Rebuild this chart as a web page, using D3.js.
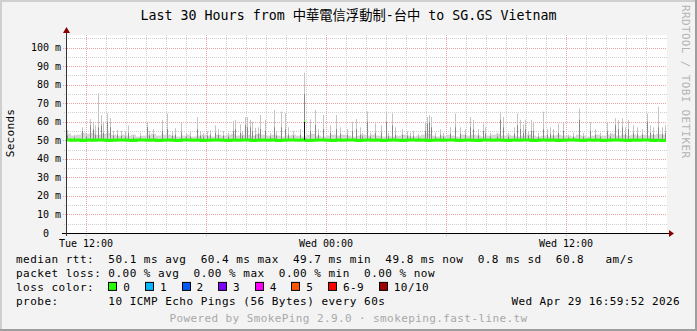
<!DOCTYPE html>
<html>
<head>
<meta charset="utf-8">
<script src="https://cdn.jsdelivr.net/npm/d3@7"></script>
<style>
body { margin: 0; background: #f3f3f3; }
text { font-family: "DejaVu Sans Mono", "Noto Sans CJK TC", monospace; white-space: pre; }
</style>
</head>
<body>
<svg id="chart" width="697" height="331"></svg>
<script>
// ---- data (ms) ----
var endTime = new Date(2026, 3, 29, 16, 59, 52);
var spanHours = 30;
var binMinutes = 15;

var yTickValues = [0, 10, 20, 30, 40, 50, 60, 70, 80, 90, 100];
var xLabelTimes = [new Date(2026, 3, 28, 12, 0), new Date(2026, 3, 29, 0, 0), new Date(2026, 3, 29, 12, 0)];

// median rtt, one value per 15 minutes
var medianMs = [
  50.1, 50.0, 50.2, 49.9, 50.1, 50.0, 50.2, 50.1, 49.9, 50.0, 50.2, 50.1, 50.0, 49.9, 50.1, 50.2, 50.0, 50.1, 49.9, 50.0,
  50.1, 50.0, 49.9, 50.1, 50.2, 50.0, 50.1, 49.9, 50.0, 50.1, 50.2, 50.0, 49.9, 50.1, 50.0, 50.2, 50.1, 49.9, 50.0, 50.1,
  50.0, 50.1, 49.9, 50.0, 50.2, 50.1, 50.0, 50.1, 49.9, 50.0, 50.1, 50.2, 50.0, 49.9, 50.1, 50.0, 50.1, 50.2, 49.9, 50.0,
  50.1, 50.0, 50.2, 49.9, 50.0, 50.1, 50.0, 49.9, 50.1, 50.2, 50.0, 50.1, 49.9, 50.0, 50.1, 50.0, 50.2, 50.1, 49.9, 50.0,
  50.1, 50.0, 49.9, 50.1, 50.2, 50.0, 50.1, 50.0, 49.9, 50.1, 50.0, 50.2, 50.1, 49.9, 50.0, 50.1, 50.0, 50.1, 49.9, 50.0,
  50.1, 50.2, 50.0, 49.9, 50.1, 50.0, 50.1, 49.9, 50.0, 50.2, 50.1, 50.0, 49.9, 50.1, 50.0, 50.1, 50.2, 49.9, 50.0, 49.8
];

// top of the low smoke band, one value per 15 minutes
var floorTopMs = [
  53.5, 52.5, 53, 54, 53.5, 54, 53, 53.5, 54, 53, 52.5, 53, 52.5, 53, 52, 52.5, 53, 53.5, 52.5, 53,
  53, 52.5, 52, 52.5, 53, 52, 52.5, 53, 52.5, 52, 53, 52.5, 53, 53.5, 52.5, 53, 53, 52.5, 53.5, 53,
  52.5, 53, 52.5, 52, 52.5, 53, 52.5, 52, 53, 53.5, 52.5, 52, 52.5, 53, 52.5, 53, 52.5, 52, 52.5, 53,
  52.5, 53, 52.5, 52, 52.5, 52, 52.5, 53, 52.5, 52, 52.5, 53, 53.5, 52.5, 52, 52.5, 53, 52.5, 52, 53,
  52.5, 53, 52.5, 52, 52.5, 53, 53.5, 52.5, 53, 52.5, 52, 52.5, 53, 52.5, 52, 52.5, 52, 52.5, 53, 52.5,
  52.5, 52, 53, 52.5, 52, 52.5, 53, 52.5, 53, 53.5, 52.5, 53, 52.5, 53, 52.5, 53, 52.5, 53, 53.5, 53
];

// smoke spikes: minutes after start, max ping, inner band top
var spikeAt = [3, 24, 48, 60, 72, 81, 87, 96, 105, 111, 123, 132, 141, 153, 165, 177, 186, 201, 222, 243, 249, 261, 288, 303, 318, 327, 345, 360, 372, 393,
  402, 411, 423, 432, 447, 456, 471, 486, 501, 507, 522, 528, 537, 543, 552, 558, 567, 576, 582, 597, 612, 624, 630, 645, 657, 666, 681, 702, 714, 732,
  747, 756, 771, 792, 810, 822, 843, 858, 870, 882, 888, 903, 912, 927, 945, 960, 966, 978, 987, 1008, 1023, 1032, 1041, 1056, 1077, 1083, 1089, 1095, 1107, 1122,
  1131, 1152, 1167, 1182, 1197, 1212, 1221, 1236, 1251, 1257, 1272, 1293, 1302, 1311, 1326, 1344, 1353, 1362, 1371, 1377, 1386, 1395, 1401, 1416, 1431, 1443, 1452, 1461, 1476, 1491,
  1506, 1521, 1539, 1551, 1572, 1587, 1602, 1623, 1632, 1647, 1656, 1668, 1677, 1686, 1701, 1713, 1728, 1743, 1752, 1761, 1776, 1788, 1797];
var spikeMax = [55.5, 53, 57, 54, 61.4, 60, 58, 75.3, 63.6, 60, 64.5, 62, 55, 55.5, 55, 55, 58, 53, 54, 60, 55, 56, 61, 64.5, 55, 56.5, 59.7, 54, 54.5, 62.5,
  55, 54, 55, 55.5, 58, 56, 55, 54, 60.5, 61, 58.5, 55, 62.5, 62.5, 61, 60, 56.7, 57, 63.6, 61, 54, 66.3, 55, 65.5, 64.6, 57, 55, 56, 86.4, 61.3,
  66.3, 56, 63.6, 58, 63.6, 57, 56, 60, 61.5, 57, 54, 65.5, 54, 59, 58, 65.4, 54, 64.5, 57, 56, 55, 54, 55, 53.5, 59.8, 62.5, 63.6, 62.5, 54, 56,
  54, 57, 64.5, 57, 56, 62.5, 61, 56, 59, 57, 54, 54, 65.4, 62.5, 54, 57, 64.5, 61, 58.5, 61, 55, 61, 60, 54, 65.4, 56, 57, 56, 59, 59.7,
  53, 54, 67.2, 54, 59.7, 56, 54, 59.7, 54, 61.9, 61, 61.9, 57, 61, 58, 57, 56, 64.5, 58, 57, 68, 57, 58];
var spikeMid = [52.5, 51.5, 55, 52, 58, 56, 53, 57, 58, 54, 60, 57, 52.5, 53, 52.5, 52, 54, 51.5, 52, 57, 52.5, 53, 55, 56, 52.5, 53, 54, 52, 52, 56,
  52.5, 52, 52.5, 53, 54, 53, 52.5, 52, 55, 56, 54, 52.5, 58, 57, 57, 55, 53, 53.5, 56, 55, 52, 57, 52.5, 57, 56, 53, 52.5, 53, 75, 55,
  58, 53, 56, 54, 56, 53.5, 53, 55, 56, 53, 52, 60, 52, 54, 54, 60, 52, 58, 53, 53, 52.5, 52, 52.5, 51.5, 55, 59, 60, 57, 52, 53,
  52, 53.5, 57, 53.5, 53, 57, 56, 53, 55, 53.5, 52, 52, 61, 57, 52, 53.5, 58, 56, 54, 56, 52.5, 55, 55, 52, 56, 53, 53.5, 53, 54, 55,
  51.5, 52, 61, 52, 55, 53, 52, 55, 52, 58, 56, 57, 53.5, 56, 54, 53.5, 53, 60, 54, 53.5, 57, 53.5, 54];

// single sample where the median itself jumped
var medPeakAt = [714];
var medPeakMs = [60.4];

var lossLabels = ["0", "1", "2", "3", "4", "5", "6-9", "10/10"];
var lossColors = ["#26ff00", "#00b8ff", "#0059ff", "#7e00ff", "#ff00ff", "#ff5500", "#ff0000", "#a10000"];

var legendLines = [
  "median rtt:  50.1 ms avg  60.4 ms max  49.7 ms min  49.8 ms now  0.8 ms sd  60.8   am/s",
  "packet loss: 0.00 % avg  0.00 % max  0.00 % min  0.00 % now",
  "loss color:",
  "probe:       10 ICMP Echo Pings (56 Bytes) every 60s"
];

// ---- layout ----
var W = 697, H = 331;
var plot = { left: 66, right: 666, top: 35, bottom: 233 };
var svg = d3.select("#chart");

var startTime = d3.timeHour.offset(endTime, -spanHours);
function atMinute(m) { return new Date(startTime.getTime() + m * 60000); }
function medianAt(m) { return medianMs[Math.min(medianMs.length - 1, Math.floor(m / binMinutes))]; }

var x = d3.scaleTime().domain([startTime, endTime]).range([plot.left, plot.right]);
var y = d3.scaleLinear().domain([0, 100]).range([plot.bottom, 47.5]);

// background + 3d frame
svg.append("rect").attr("width", W).attr("height", H).attr("fill", "#f3f3f3");
svg.append("rect").attr("x", plot.left).attr("y", plot.top)
  .attr("width", plot.right - plot.left + 1).attr("height", plot.bottom - plot.top).attr("fill", "#fff");
svg.append("path").attr("d", "M0,1H" + (W - 1) + "M1,0V" + (H - 1)).attr("stroke", "#cfcfcf").attr("stroke-width", 2);
svg.append("path").attr("d", "M0," + (H - 1) + "H" + W + "M" + (W - 1) + ",0V" + H).attr("stroke", "#9e9e9e").attr("stroke-width", 2);

// grid
var grid = svg.append("g");
var minorY = d3.range(5, 106, 5).filter(function (v) { return v % 10 !== 0; });
var majorY = yTickValues.filter(function (v) { return v > 0; });
grid.selectAll(".gy").data(minorY).enter().append("line")
  .attr("x1", plot.left - 2).attr("x2", plot.right + 1)
  .attr("y1", function (d) { return Math.round(y(d)) + 0.5; }).attr("y2", function (d) { return Math.round(y(d)) + 0.5; })
  .attr("stroke", "#cfcfcf").attr("stroke-dasharray", "1,1");
var hours = x.ticks(d3.timeHour.every(1)).filter(function (d) { return d.getHours() % 6 !== 0; });
grid.selectAll(".gx").data(hours).enter().append("line")
  .attr("y1", plot.top).attr("y2", plot.bottom + 2)
  .attr("x1", function (d) { return Math.round(x(d)) + 0.5; }).attr("x2", function (d) { return Math.round(x(d)) + 0.5; })
  .attr("stroke", "#cfcfcf").attr("stroke-dasharray", "1,1");
grid.selectAll(".my").data(majorY).enter().append("line")
  .attr("x1", plot.left - 3).attr("x2", plot.right + 1)
  .attr("y1", function (d) { return Math.round(y(d)) + 0.5; }).attr("y2", function (d) { return Math.round(y(d)) + 0.5; })
  .attr("stroke", "#e9a3a3").attr("stroke-dasharray", "1,1");
var sixHours = x.ticks(d3.timeHour.every(6));
grid.selectAll(".mx").data(sixHours).enter().append("line")
  .attr("y1", plot.top).attr("y2", plot.bottom + 3)
  .attr("x1", function (d) { return Math.round(x(d)) + 0.5; }).attr("x2", function (d) { return Math.round(x(d)) + 0.5; })
  .attr("stroke", "#e9a3a3").attr("stroke-dasharray", "1,1");

// smoke: low band
var smoke = svg.append("g");
smoke.selectAll(".floor").data(floorTopMs).enter().append("rect")
  .attr("x", function (d, i) { return x(atMinute(i * binMinutes)); })
  .attr("width", function (d, i) { return x(atMinute((i + 1) * binMinutes)) - x(atMinute(i * binMinutes)); })
  .attr("y", function (d) { return y(d); })
  .attr("height", function (d, i) { return y(medianMs[i]) - y(d); })
  .attr("fill", "#d6d6d6");

// smoke: spikes
var spikes = spikeAt.map(function (m, i) { return { m: m, max: spikeMax[i], mid: spikeMid[i] }; });
smoke.selectAll(".sp").data(spikes).enter().append("rect")
  .attr("x", function (d) { return Math.round(x(atMinute(d.m))); }).attr("width", 1)
  .attr("y", function (d) { return y(d.max); })
  .attr("height", function (d) { return y(medianAt(d.m)) - y(d.max); })
  .attr("fill", "#c4c4c4");
smoke.selectAll(".sm").data(spikes).enter().append("rect")
  .attr("x", function (d) { return Math.round(x(atMinute(d.m))); }).attr("width", 1)
  .attr("y", function (d) { return y(d.mid); })
  .attr("height", function (d) { return y(medianAt(d.m)) - y(d.mid); })
  .attr("fill", "#888");

// median line
var medPts = [[startTime, medianMs[0]]]
  .concat(medianMs.map(function (v, i) { return [atMinute(i * binMinutes + binMinutes / 2), v]; }))
  .concat([[endTime, medianMs[medianMs.length - 1]]]);
svg.append("path").datum(medPts)
  .attr("d", d3.line().x(function (d) { return x(d[0]); }).y(function (d) { return y(d[1]); }).curve(d3.curveStep))
  .attr("fill", "none").attr("stroke", lossColors[0]).attr("stroke-width", 3);

medPeakAt.forEach(function (m, i) {
  var px = Math.round(x(atMinute(m)));
  svg.append("rect").attr("x", px).attr("width", 1).attr("y", y(medPeakMs[i]))
    .attr("height", y(medianAt(m)) - y(medPeakMs[i])).attr("fill", "#111");
  svg.append("rect").attr("x", px).attr("width", 1).attr("y", y(medPeakMs[i]) - 1).attr("height", 2).attr("fill", lossColors[0]);
});

// axes
svg.append("line").attr("x1", plot.left - 4).attr("x2", plot.right + 5)
  .attr("y1", plot.bottom + 0.5).attr("y2", plot.bottom + 0.5).attr("stroke", "#000");
svg.append("line").attr("x1", plot.left + 0.5).attr("x2", plot.left + 0.5)
  .attr("y1", plot.bottom + 3).attr("y2", plot.top - 4).attr("stroke", "#333");
svg.append("path").attr("d", "M" + (plot.right + 3) + "," + (plot.bottom - 3) + "l5,3.5l-5,3.5z").attr("fill", "#8b0000");
svg.append("path").attr("d", "M" + (plot.left - 3) + "," + (plot.top - 2) + "l3.5,-6l3.5,6z").attr("fill", "#8b0000");

// tick labels
svg.selectAll(".yl").data(yTickValues).enter().append("text")
  .attr("x", 61).attr("y", function (d) { return y(d) + 3.5; })
  .attr("text-anchor", "end").attr("font-size", "10px").attr("fill", "#000")
  .text(function (d) { return d === 0 ? "0\u00a0\u00a0" : d + " m"; });
var fmt = d3.timeFormat("%a %H:%M");
svg.selectAll(".xl").data(xLabelTimes).enter().append("text")
  .attr("x", function (d) { return x(d); }).attr("y", 246.5)
  .attr("text-anchor", "middle").attr("font-size", "10px").attr("fill", "#000")
  .text(function (d) { return fmt(d); });

// titles
svg.append("text").attr("x", 348.5).attr("y", 20).attr("text-anchor", "middle")
  .attr("font-size", "13.3px").attr("fill", "#000")
  .text("Last 30 Hours from 中華電信浮動制-台中 to SG.GS Vietnam");
svg.append("text").attr("transform", "translate(14,133) rotate(-90)").attr("text-anchor", "middle")
  .attr("font-size", "11px").attr("letter-spacing", "0.3px").attr("fill", "#000").text("Seconds");
svg.append("text").attr("transform", "translate(682,5) rotate(90)")
  .attr("font-size", "11px").attr("letter-spacing", "0.35px").attr("fill", "#b4b4b4").text("RRDTOOL / TOBI OETIKER");

// legend
var lx = 16, lineY0 = 262.5, lineGap = 14.2, charW = 7.1;
svg.selectAll(".lg").data(legendLines).enter().append("text")
  .attr("x", lx).attr("y", function (d, i) { return lineY0 + i * lineGap; })
  .attr("font-size", "11px").attr("letter-spacing", "0.48px").attr("fill", "#000")
  .text(function (d) { return d; });

var bx = lx + 13 * charW;
var items = lossLabels.map(function (l, i) {
  var it = { label: l, color: lossColors[i], x: bx };
  bx += 15 + l.length * charW + 14.5;
  return it;
});
var ly = lineY0 + 2 * lineGap;
var lg = svg.selectAll(".li").data(items).enter().append("g");
lg.append("rect").attr("x", function (d) { return Math.round(d.x) + 0.5; }).attr("y", ly - 8.5)
  .attr("width", 8).attr("height", 8).attr("fill", function (d) { return d.color; }).attr("stroke", "#000");
lg.append("text").attr("x", function (d) { return d.x + 15; }).attr("y", ly)
  .attr("font-size", "11px").attr("letter-spacing", "0.48px").attr("fill", "#000")
  .text(function (d) { return d.label; });

svg.append("text").attr("x", 680).attr("y", lineY0 + 3 * lineGap).attr("text-anchor", "end")
  .attr("font-size", "11px").attr("letter-spacing", "0.4px").attr("fill", "#000")
  .text(d3.timeFormat("%a %b %d %H:%M:%S %Y")(endTime));
svg.append("text").attr("x", 348.5).attr("y", 321.5).attr("text-anchor", "middle")
  .attr("font-size", "11px").attr("letter-spacing", "0.4px").attr("fill", "#a8a8a8")
  .text("Powered by SmokePing 2.9.0 · smokeping.fast-line.tw");
</script>
</body>
</html>
